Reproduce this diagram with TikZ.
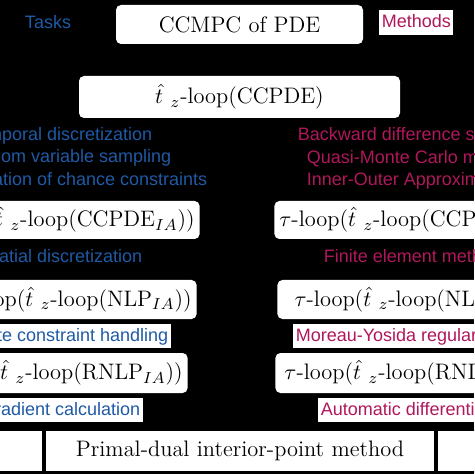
\documentclass[tikz,border=0pt]{standalone}
\usepackage{amsmath}
\usepackage{fontspec}
\newfontfamily\labelfont{Liberation Sans}
\definecolor{TaskBlue}{HTML}{1F5AA6}
\definecolor{MethodMagenta}{HTML}{B0175C}
\usetikzlibrary{positioning}
\newcommand{\tz}{\hat{t}_{\mkern8mu z}}

\begin{document}
\begin{tikzpicture}[x=0.5pt, y=-0.5pt,
  box/.style={fill=white, rounded corners=2.5pt, inner xsep=2.5pt, inner ysep=0pt,
    font=\fontsize{11.2}{13}\selectfont},
  sidebox/.style={box, anchor=west, minimum width=137pt},
  task/.style={text=TaskBlue, inner sep=1.2pt, text height=0.75em, text depth=0.22em,
    font=\labelfont\fontsize{9}{11}\selectfont},
  method/.style={task, text=MethodMagenta},
  cell/.style={draw=black, line width=1pt, fill=white, minimum height=21pt, inner sep=0pt,
    font=\fontsize{11.2}{13}\selectfont}]
  \useasboundingbox (0,0) rectangle (474,474);
  \fill[black] (0,0) rectangle (474,474);
  \clip (0,0) rectangle (474,474);

  \node[box, minimum width=123.5pt, minimum height=19.5pt] (ccmpc) at (239.5,24.5) {CCMPC of PDE};
  \node[task] (tasks) at (48,23) {Tasks};
  \node[method, fill=white, anchor=west] (methods) at (379,22.5) {Methods};

  \node[box, minimum width=160.5pt, minimum height=21pt] (ccpde) at (239.5,97) {$\tz$-loop(CCPDE)};

  \node[task, anchor=east] (tempdisc) at (155,135) {Temporal discretization};
  \node[task, anchor=east] (sampling) at (174,157) {Random variable sampling};
  \node[task, anchor=east] (approx) at (210,180) {Approximation of chance constraints};
  \node[method, anchor=west] (bdf) at (295,135) {Backward difference scheme};
  \node[method, anchor=west] (qmc) at (304,158) {Quasi-Monte Carlo method};
  \node[method, anchor=west] (ioa) at (304,180) {Inner-Outer Approximation};

  \node[box, anchor=east, minimum height=19pt] (ccpdeIA) at (200,220) {$\tau$-loop($\tz$-loop(CCPDE$_{IA}$))};
  \node[sidebox, minimum height=19pt] (ccpdeOA) at (274,220) {$\tau$-loop($\tz$-loop(CCPDE$_{OA}$))};

  \node[task, anchor=east] (spatdisc) at (145,257) {Spatial discretization};
  \node[method, anchor=west] (fem) at (321,257) {Finite element method};

  \node[box, anchor=east, minimum height=19.5pt] (nlpIA) at (197,299.5) {$\tau$-loop($\tz$-loop(NLP$_{IA}$))};
  \node[sidebox, minimum height=19.5pt] (nlpOA) at (277,299.5) {$\tau$-loop($\tz$-loop(NLP$_{OA}$))};

  \node[task, fill=white, anchor=east] (statecon) at (171,336) {State constraint handling};
  \node[method, fill=white, anchor=west] (moreau) at (293,336) {Moreau-Yosida regularization};

  \node[box, anchor=east, minimum height=20pt] (rnlpIA) at (188,373) {$\tau$-loop($\tz$-loop(RNLP$_{IA}$))};
  \node[sidebox, minimum height=20pt] (rnlpOA) at (275,373) {$\tau$-loop($\tz$-loop(RNLP$_{OA}$))};

  \node[task, fill=white, anchor=east] (gradient) at (143,410) {Gradient calculation};
  \node[method, fill=white, anchor=west] (autodiff) at (318,410) {Automatic differentiation};

  \node[cell, minimum width=195pt] (pdipm) at (240,451) {Primal-dual interior-point method};
  \node[cell, anchor=east, minimum width=60pt] (cellL) at (pdipm.west) {};
  \node[cell, anchor=west, minimum width=60pt] (cellR) at (pdipm.east) {};
\end{tikzpicture}
\end{document}
